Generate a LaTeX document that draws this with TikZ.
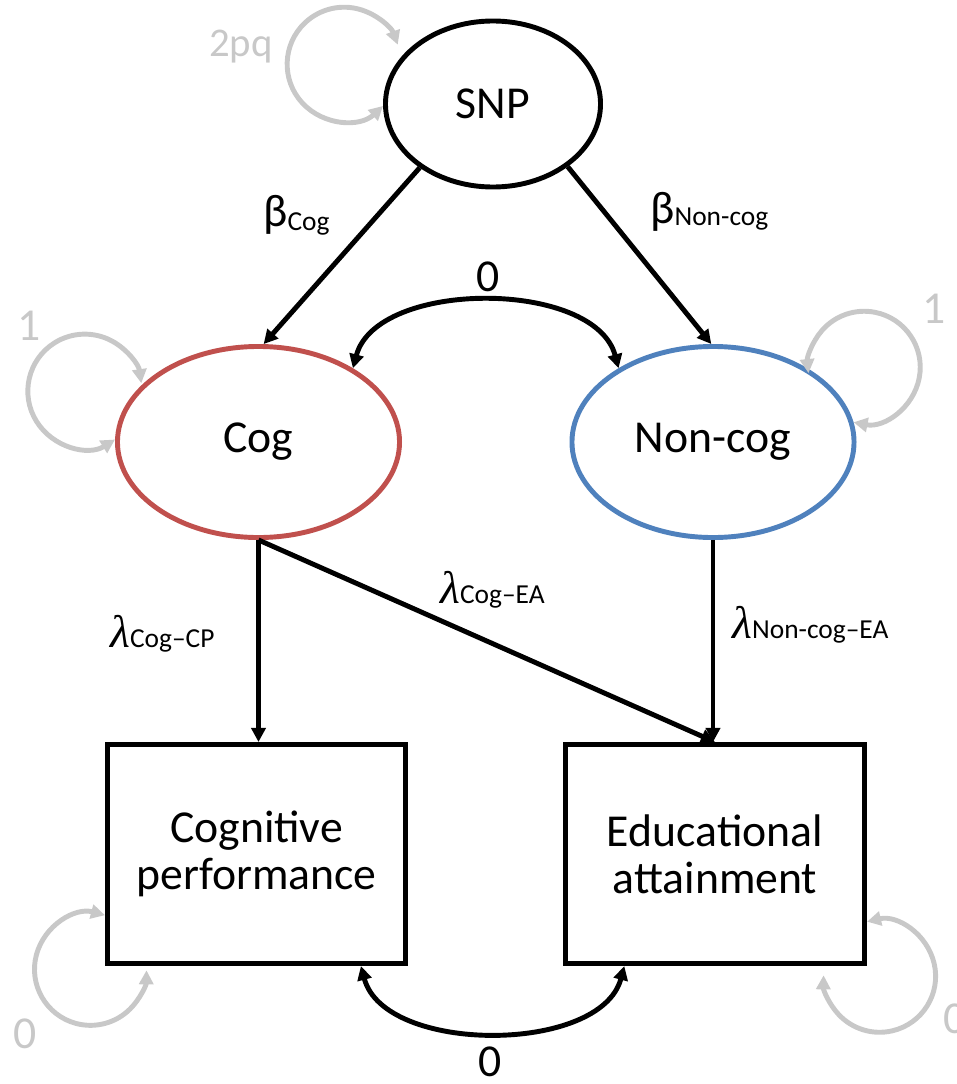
\documentclass[tikz,border=0pt]{standalone}
\usepackage{fontspec}
\setmainfont{Carlito}
\newfontfamily\lamfont{Liberation Serif}
\usetikzlibrary{arrows.meta,shapes.geometric}
\definecolor{cogred}{RGB}{192,80,77}
\definecolor{ncblue}{RGB}{79,129,189}
\definecolor{lgray}{RGB}{200,200,200}
\newcommand\bigsz{\fontsize{32.5pt}{33.5pt}\selectfont}
\newcommand\smallgsz{\fontsize{29pt}{30pt}\selectfont}
\newcommand\subsz{\fontsize{19.5pt}{20pt}\selectfont}
\newcommand\lam{{\lamfont\itshape λ}}
\begin{document}
\begin{tikzpicture}[x=0.025cm,y=-0.025cm,
  ell/.style={ellipse, draw, line width=3.5pt, minimum width=7.05cm, minimum height=4.775cm, font=\bigsz, inner sep=0pt},
  boxn/.style={rectangle, draw, line width=3.5pt, minimum width=7.45cm, minimum height=5.475cm, align=center, font=\bigsz, inner sep=0pt},
  tip/.style={Triangle[length=10pt,width=10pt]},
  barr/.style={line width=3.5pt, -{Triangle[length=10pt,width=10pt]}},
  barr2/.style={line width=3.5pt, {Triangle[length=10pt,width=10pt]}-{Triangle[length=10pt,width=10pt]}},
  gloop/.style={line width=3.5pt, draw=lgray, {Triangle[length=10pt,width=10pt]}-{Triangle[length=10pt,width=10pt]}},
  lbl/.style={font=\bigsz, inner sep=0pt, anchor=base west},
  glbl/.style={font=\bigsz, text=lgray, inner sep=0pt, anchor=base},
]
\useasboundingbox (0,0) rectangle (956,1084);

% nodes
\node[ell, minimum width=5.375cm, minimum height=4.15cm] (snp) at (493,104) {SNP};
\node[ell, draw=cogred] (cog) at (258.5,442) {Cog};
\node[ell, draw=ncblue] (noncog) at (713,442) {Non-cog};
\node[boxn] (cp) at (256.5,854) {Cognitive\\performance};
\node[boxn, minimum width=7.475cm] (ea) at (715,854) {Educational\\attainment};

% self loops (variances)
\draw[gloop] (snp.181) arc[start angle=-47, end angle=-340, radius=1.425cm];
\draw[gloop] (cog.179) arc[start angle=-58, end angle=-352, radius=1.425cm];
\draw[gloop] (noncog.8) arc[start angle=-101, end angle=186, radius=1.4cm];
\draw[gloop] (cp.202) arc[start angle=75, end angle=359, radius=1.4cm];
\draw[gloop] (ea.-24) arc[start angle=103, end angle=-181, radius=1.4cm];

% black connectors
\draw[barr] (snp.221) -- (cog.87);
\draw[barr] (snp.-40) -- (noncog.91);
\draw[barr2] (cog.38) to[out=75, in=105, looseness=0.89] (noncog.142);
\draw[barr] (cog.south) -- (cog.south |- cp.north);
\draw[barr] (cog.south) -- (ea.north);
\draw[barr] (noncog.south) -- (noncog.south |- ea.north);
\draw[barr2] (cp.-47) to[out=-75, in=-105, looseness=0.89] (ea.-129);

% labels
\node[lbl] (bcog) at (263,226) {β\raisebox{-3pt}{\subsz Cog}};
\node[lbl] (bnc) at (650,223) {β\raisebox{-2pt}{\subsz Non-cog}};
\node[lbl] (lcp) at (110,647) {\lam{\subsz Cog–CP}};
\node[lbl] (lcea) at (440,603) {\lam{\subsz Cog–EA}};
\node[lbl] (lncea) at (732,638) {\lam{\subsz Non-cog–EA}};

\node[glbl, font=\smallgsz] (l2pq) at (241,57) {2pq};
\node[glbl] (l1a) at (29,340) {1};
\node[glbl] (l1b) at (934,323) {1};
\node[glbl] (l0a) at (25,1048) {0};
\node[glbl] (l0b) at (955,1033) {0};
\node[glbl, text=black] (z1) at (488,291) {0};
\node[glbl, text=black] (z2) at (490,1076) {0};
\end{tikzpicture}
\end{document}
